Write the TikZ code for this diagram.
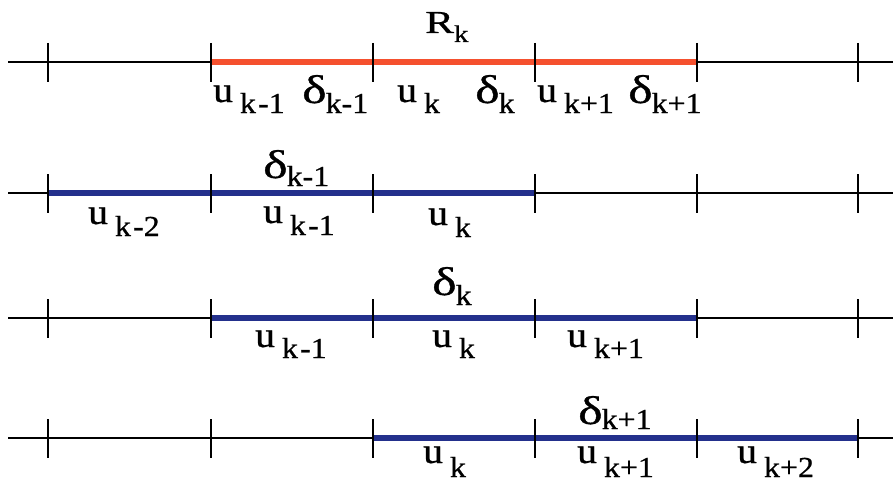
\documentclass[tikz,border=0pt]{standalone}
\usepackage{fontspec}
\usepackage{graphicx}
\setmainfont{Liberation Serif}[BoldFont=Liberation Serif, BoldFeatures={FakeBold=0.7}]
\usetikzlibrary{positioning}
\definecolor{redseg}{HTML}{F5502E}
\definecolor{blueseg}{HTML}{23308C}

\newcommand{\bigf}{\fontsize{36}{36}\selectfont}
\newcommand{\delf}{\fontsize{40}{40}\selectfont}
\newcommand{\subf}{\fontsize{29}{29}\selectfont}
\newcommand{\ulab}[2][12]{\scalebox{1.1}[1]{\bigf u}\kern7pt\raisebox{-#1pt}{\scalebox{1.1}[1]{\subf #2}}}
\newcommand{\dlab}[2][10]{\scalebox{1.3}[1]{\delf δ}\kern-1pt\raisebox{-#1pt}{\scalebox{1.1}[1]{\subf #2}}}

\begin{document}
\begin{tikzpicture}[x=1pt,y=-1pt,
  axis/.style={line width=2.2pt, black},
  tick/.style={line width=2pt, black},
  redpart/.style={line width=6.5pt, redseg},
  bluepart/.style={line width=6.5pt, blueseg},
  lab/.style={anchor=base west, inner sep=0pt, font=\bfseries},
]
\useasboundingbox (0,0) rectangle (893,487);

% the four axes
\foreach \r/\y in {1/62,2/193,3/318,4/438}{
  \draw[axis] (8,\y) -- (893,\y);
  \foreach \i/\x in {0/48,1/211,2/373,3/535,4/697,5/858}
    \coordinate (t\r\i) at (\x,\y);
}

% highlighted parts
\draw[redpart] (t11) -- (t14);
\draw[bluepart] (t20) -- (t23);
\draw[bluepart] (t31) -- (t34);
\draw[bluepart] (t42) -- (t45);

% ticks
\foreach \r in {1,2,3,4}
  \foreach \i in {0,...,5}
    \draw[tick] ([yshift=19pt]t\r\i) -- ([yshift=-20pt]t\r\i);

% row 1
\node[lab] (rk) at (425,33) {\scalebox{1.35}[1]{\fontsize{32}{32}\selectfont R}\raisebox{-9pt}{\scalebox{1.2}[1]{\fontsize{24}{24}\selectfont k}}};
\node[lab] (a1) at (213,102) {\ulab[11]{k\kern2pt-1}};
\node[lab] (a2) at (302,103) {\dlab{k-1}};
\node[lab] (a3) at (397,102) {\ulab[11]{k}};
\node[lab] (a4) at (475,103) {\dlab{k}};
\node[lab] (a5) at (537,102) {\ulab[11]{k+1}};
\node[lab] (a6) at (628,103) {\dlab{k+1}};

% row 2
\node[lab] (b0) at (263,178) {\dlab[8]{k-1}};
\node[lab] (b1) at (88,224) {\ulab{k\kern2pt-2}};
\node[lab] (b2) at (263,223) {\ulab{k\kern2pt-1}};
\node[lab] (b3) at (428,225) {\ulab{k}};

% row 3
\node[lab] (c0) at (432,295) {\dlab[10]{k}};
\node[lab] (c1) at (255,347) {\ulab[11]{k\kern2pt-1}};
\node[lab] (c2) at (432,347) {\ulab[11]{k}};
\node[lab] (c3) at (567,347) {\ulab[11]{k+1}};

% row 4
\node[lab] (d0) at (578,424) {\dlab[5]{k+1}};
\node[lab] (d1) at (423,463) {\ulab[14]{k}};
\node[lab] (d2) at (577,463) {\ulab[14]{k+1}};
\node[lab] (d3) at (737,463) {\ulab[14]{k+2}};
\end{tikzpicture}
\end{document}
